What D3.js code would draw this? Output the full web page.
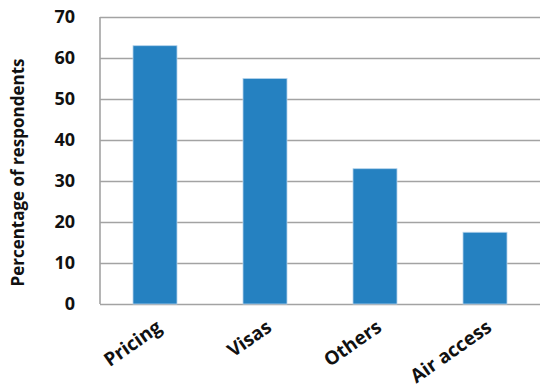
<!DOCTYPE html>
<html>
<head>
<meta charset="utf-8">
<script src="https://cdn.jsdelivr.net/npm/d3@7"></script>
<style>
  body { margin: 0; background: #fff; }
  text { font-family: "Open Sans", "Noto Sans", sans-serif; font-weight: 700; fill: #111; }
</style>
</head>
<body>
<div id="chart"></div>
<script>
const categories = ["Pricing", "Visas", "Others", "Air access"];
const values = [63, 55, 33, 17.5];
const yTicks = [0, 10, 20, 30, 40, 50, 60, 70];

const width = 540;
const height = 388;
const plotLeft = 100;
const plotRight = 540;
const plotTop = 17;
const plotBottom = 304;

const svg = d3.select("#chart")
  .append("svg")
  .attr("width", width)
  .attr("height", height);

const x = d3.scaleBand()
  .domain(categories)
  .range([plotLeft, plotRight])
  .paddingInner(0.6)
  .paddingOuter(0.3);

const y = d3.scaleLinear()
  .domain([0, 70])
  .range([plotBottom, plotTop]);

// gridlines
svg.append("g")
  .attr("transform", `translate(${plotLeft},0)`)
  .call(d3.axisLeft(y).tickValues(yTicks).tickSize(-(plotRight - plotLeft)).tickFormat(""))
  .call(g => g.select(".domain").remove())
  .call(g => g.selectAll(".tick line").attr("stroke", "#a3a3a3").attr("stroke-width", 1.6));

// left axis line
svg.append("line")
  .attr("x1", plotLeft).attr("x2", plotLeft)
  .attr("y1", y(70)).attr("y2", y(0))
  .attr("stroke", "#a3a3a3")
  .attr("stroke-width", 1.6);

// tick labels
svg.append("g")
  .attr("transform", `translate(${plotLeft},0)`)
  .call(d3.axisLeft(y).tickValues(yTicks).tickSize(0).tickPadding(25))
  .call(g => g.select(".domain").remove())
  .call(g => g.selectAll("text")
    .attr("font-size", 18)
    .attr("font-family", "'Open Sans', sans-serif")
    .attr("font-weight", 700)
    .attr("fill", "#111"));

// bars
svg.selectAll("rect.bar")
  .data(values)
  .enter()
  .append("rect")
  .attr("class", "bar")
  .attr("x", (d, i) => x(categories[i]))
  .attr("y", d => y(d))
  .attr("width", x.bandwidth())
  .attr("height", d => y(0) - y(d))
  .attr("fill", "#2581c1")
  .attr("stroke", "#b5d3ec")
  .attr("stroke-width", 0.8);

// category labels
svg.append("g")
  .selectAll("text")
  .data(categories)
  .enter()
  .append("text")
  .attr("transform", d => `translate(${x(d) + x.bandwidth() / 2 + 8},${plotBottom + 26}) rotate(-35)`)
  .attr("text-anchor", "end")
  .attr("font-size", 19)
  .text(d => d);

// y label
svg.append("text")
  .attr("transform", `translate(24,${(plotTop + plotBottom) / 2 + 12}) rotate(-90)`)
  .attr("text-anchor", "middle")
  .attr("font-size", 17)
  .text("Percentage of respondents");
</script>
</body>
</html>
